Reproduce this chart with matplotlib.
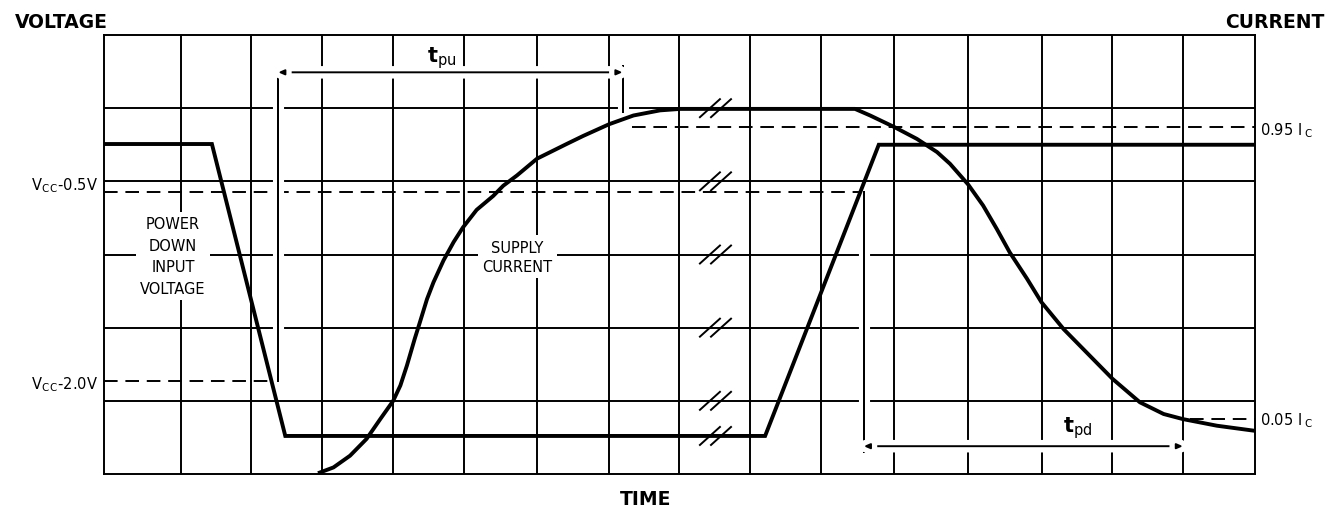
import numpy as np
import matplotlib
matplotlib.use('Agg')
import matplotlib.pyplot as plt
import matplotlib.patheffects as pe

# Power-down input voltage (piecewise linear), in grid units
volt_t = [0.0, 1.50, 2.52, 9.19, 10.77, 16.0]
volt_v = [4.51, 4.51, 0.52, 0.52, 4.50, 4.50]

# Supply current curve
curr_t = [3.00, 3.19, 3.42, 3.65, 3.84, 4.02, 4.12, 4.21, 4.32, 4.39, 4.49, 4.58,
          4.72, 4.86, 4.99, 5.18, 5.41, 5.55, 5.74, 6.02, 6.43, 6.66, 7.02, 7.36,
          7.73, 8.01, 10.44, 10.65, 10.99, 11.30, 11.58, 11.76, 12.01, 12.22,
          12.41, 12.59, 12.83, 13.03, 13.34, 13.61, 14.02, 14.40, 14.73, 15.00,
          15.47, 16.00]
curr_i = [0.02, 0.09, 0.25, 0.48, 0.75, 1.00, 1.21, 1.48, 1.85, 2.07, 2.39, 2.62,
          2.92, 3.17, 3.37, 3.61, 3.80, 3.94, 4.08, 4.31, 4.51, 4.62, 4.78, 4.90,
          4.97, 4.99, 4.99, 4.90, 4.74, 4.58, 4.40, 4.24, 3.96, 3.67,
          3.35, 3.03, 2.67, 2.35, 1.98, 1.71, 1.30, 0.98, 0.82, 0.75,
          0.66, 0.59]

# reference levels
vcc_05 = 3.85
vcc_20 = 1.27
ic_95 = 4.74
ic_05 = 0.75

# timing markers
tpu_start, tpu_end, tpu_y = 2.42, 7.21, 5.49
tpd_start, tpd_end, tpd_y = 10.56, 15.0, 0.38

# grid positions
grid_x = [1.07, 2.04, 3.03, 4.02, 5.0, 6.02, 7.02, 7.99, 8.98, 9.97, 10.98,
          12.01, 13.04, 14.01, 15.0]
grid_y = [1, 2, 3, 4, 5]

# time-axis break marks
break_x = 8.5
break_levels = [5, 4, 3, 2, 1, 0.52]

fig = plt.figure(figsize=(13.27, 5.10), dpi=100)
ax = fig.add_axes([104 / 1327, 1 - 475 / 510, 1151 / 1327, 439 / 510])
ax.set_xlim(0, 16)
ax.set_ylim(0, 6)
ax.set_xticks([])
ax.set_yticks([])
for s in ax.spines.values():
    s.set_linewidth(1.4)

# grid
for x in grid_x:
    ax.axvline(x, color='black', lw=1.4, zorder=1)
for y in grid_y:
    ax.axhline(y, color='black', lw=1.4, zorder=1)

halo = [pe.withStroke(linewidth=8, foreground='white'), pe.Normal()]

# dashed reference lines
dash = dict(color='black', lw=1.4, dashes=(7, 4), zorder=2)
ax.plot([0, tpd_start], [vcc_05, vcc_05], **dash)
ax.plot([0, tpu_start], [vcc_20, vcc_20], **dash)
ax.plot([7.34, 16], [ic_95, ic_95], **dash)
ax.plot([15.1, 16], [ic_05, ic_05], **dash)

# timing marker lines
ax.plot([tpu_start, tpu_start], [tpu_y, vcc_20], color='black', lw=1.4,
        zorder=2, path_effects=halo)
ax.plot([tpu_end, tpu_end], [tpu_y + 0.09, 4.95], color='black', lw=1.4,
        zorder=2, path_effects=halo)
ax.plot([tpd_start, tpd_start], [vcc_05, 0.30], color='black', lw=1.4,
        zorder=2, path_effects=halo)

arrow = dict(arrowstyle='<|-|>,head_length=0.35,head_width=0.15', color='black',
             lw=1.4, shrinkA=0, shrinkB=0,
             path_effects=[pe.withStroke(linewidth=9, foreground='white')])
ax.annotate('', xy=(tpu_end, tpu_y), xytext=(tpu_start, tpu_y),
            arrowprops=arrow, zorder=2)
ax.annotate('', xy=(tpd_end, tpd_y), xytext=(tpd_start, tpd_y),
            arrowprops=arrow, zorder=2)

# curves
ax.plot(volt_t, volt_v, color='black', lw=2.8, zorder=4, solid_joinstyle='miter')
ax.plot(curr_t, curr_i, color='black', lw=2.8, zorder=4, solid_joinstyle='round')

# break marks
for y in break_levels:
    for dx in (-0.077, 0.077):
        ax.plot([break_x + dx - 0.139, break_x + dx + 0.139], [y - 0.123, y + 0.123],
                color='black', lw=1.4, zorder=5)

# labels inside
box = dict(facecolor='white', edgecolor='none', pad=3)
ax.text(0.96, 2.98, 'POWER\nDOWN\nINPUT\nVOLTAGE', ha='center', va='center',
        fontsize=10.5, linespacing=1.55, bbox=box, zorder=3)
ax.text(5.75, 2.97, 'SUPPLY\nCURRENT', ha='center', va='center',
        fontsize=10.5, linespacing=1.35, bbox=box, zorder=3)
ax.text(4.70, 5.70, r'$\mathbf{t}_{\rm pu}$', ha='center', va='center', fontsize=15,
        zorder=3)
ax.text(13.54, 0.64, r'$\mathbf{t}_{\rm pd}$', ha='center', va='center', fontsize=15,
        bbox=dict(facecolor='white', edgecolor='none', pad=1), zorder=3)

# side labels
ax.text(-0.08, 3.95, r'V$_{\rm C\,C}$-0.5V', ha='right', va='center', fontsize=10.5,
        clip_on=False)
ax.text(-0.08, 1.23, r'V$_{\rm C\,C}$-2.0V', ha='right', va='center', fontsize=10.5,
        clip_on=False)
ax.text(16.07, 4.71, r'0.95 I$_{\;\rm C}$', ha='left', va='center', fontsize=10.5,
        clip_on=False)
ax.text(16.07, 0.74, r'0.05 I$_{\;\rm C}$', ha='left', va='center', fontsize=10.5,
        clip_on=False)

fig.text(15 / 1327, 1 - 22 / 510, 'VOLTAGE', fontsize=13.5, fontweight='bold',
         ha='left', va='center')
fig.text(1325 / 1327, 1 - 22 / 510, 'CURRENT', fontsize=13.5, fontweight='bold',
         ha='right', va='center')
fig.text(646 / 1327, 1 - 500 / 510, 'TIME', fontsize=13.5, fontweight='bold',
         ha='center', va='center')

fig.savefig('out.png', dpi=100, facecolor='white')
